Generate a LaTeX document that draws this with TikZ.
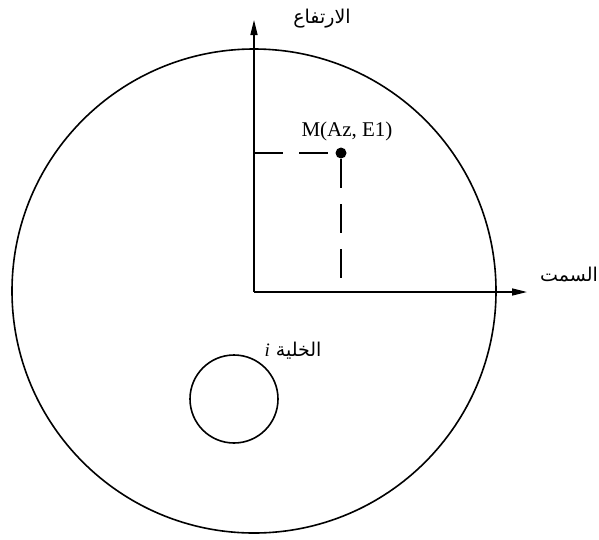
\documentclass[tikz,border=0pt]{standalone}
\usepackage{fontspec}
\setmainfont{Liberation Serif}
\newfontfamily\arabicfont[Script=Arabic]{DejaVu Sans}
\TeXXeTstate=1
\usetikzlibrary{arrows.meta}
\begin{document}
\begin{tikzpicture}[x=1pt,y=-1pt,
  line width=1.5pt,
  ring/.style={circle,draw,inner sep=0pt,line width=1.6pt},
  axis/.style={-{Triangle[length=15pt,width=7pt]}},
  guide/.style={dash pattern=on 29pt off 16pt},
  dot/.style={circle,fill,inner sep=0pt,minimum size=11pt},
  artext/.style={font=\arabicfont\fontsize{19}{22}\selectfont,inner sep=0pt},
  latext/.style={font=\fontsize{21}{24}\selectfont,inner sep=0pt}]
\useasboundingbox (0,0) rectangle (599,539);
\node[ring,minimum size=484pt] (sky) at (254,291) {};
\node[ring,minimum size=88pt] (cell) at (234,399) {};
\coordinate (O) at (254,292);
\coordinate (ytip) at (254,20);
\coordinate (xtip) at (527,292);
\draw[axis] (O) -- (ytip);
\draw[axis] (O) -- (xtip);
\node[dot] (M) at (341,153) {};
\coordinate (Mx) at (O |- M);
\coordinate (Mb) at (341,278);
\draw[guide] (Mx) -- (M.west);
\draw[guide] (M) -- (Mb);
\node[latext] (Mlab) at (347,131) {M(Az, E1)};
\node[artext] (elev) at (322,19) {\beginR الارتفاع\endR};
\node[artext] (azim) at (569,275) {\beginR السمت\endR};
\node[artext] (celllab) at (293,351) {\beginR الخلية \beginL{\fontspec{Liberation Serif}\itshape i}\endL\endR};
\end{tikzpicture}
\end{document}
